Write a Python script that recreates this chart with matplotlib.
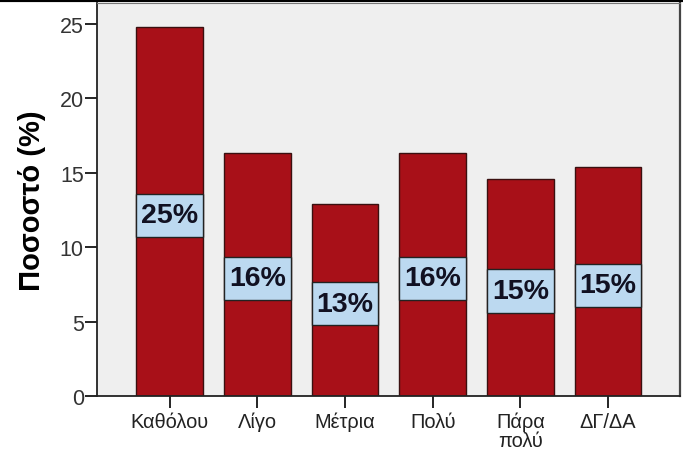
import matplotlib.pyplot as plt
from matplotlib.patches import Rectangle
from matplotlib.lines import Line2D

plt.rcParams['font.family'] = ['Liberation Sans', 'DejaVu Sans']

categories = ['Καθόλου', 'Λίγο', 'Μέτρια', 'Πολύ', 'Πάρα\nπολύ', 'ΔΓ/ΔΑ']
percent = [24.8, 16.3, 12.9, 16.3, 14.6, 15.4]

bar_color = '#a81018'
box_color = '#bcd9f0'
bar_width = 0.76

fig = plt.figure(figsize=(6.83, 4.60), dpi=100)
ax = fig.add_axes([97 / 683, 1 - 397 / 460, 583 / 683, 393 / 460])
ax.set_facecolor('#efefef')

x = list(range(len(categories)))
ax.bar(x, percent, width=bar_width, color=bar_color, edgecolor='#3a1010', linewidth=1.0, zorder=2)

# value boxes in the middle of each bar
box_h = 2.9
for xi, v in zip(x, percent):
    yc = v / 2 - 0.25
    ax.add_patch(Rectangle((xi - bar_width / 2, yc - box_h / 2), bar_width, box_h,
                           facecolor=box_color, edgecolor='#222222', linewidth=1.0, zorder=3))
    ax.text(xi, yc, f'{round(v):d}%', ha='center', va='center', fontsize=20.5,
            fontweight='bold', color='#111122', zorder=4)

ax.set_xlim(-0.83, 5.82)
ax.set_ylim(0, 26.4)
ax.set_yticks([0, 5, 10, 15, 20, 25])
ax.set_xticks(x)
ax.set_xticklabels(categories, fontsize=14.4, linespacing=0.95, color='#222222')
ax.tick_params(axis='y', length=8.5, width=1.2, labelsize=15.5, labelcolor='#333333', pad=1)
ax.tick_params(axis='x', length=8.5, width=1.2, pad=3)
ax.set_ylabel('Ποσοστό (%)', fontsize=21, fontweight='bold', labelpad=10)

for side in ['left', 'bottom']:
    ax.spines[side].set_linewidth(1.3)
    ax.spines[side].set_color('#222222')
ax.spines['top'].set_color('#777777')
ax.spines['right'].set_color('#444444')
ax.spines['right'].set_linewidth(1.6)

# black strip along the top edge
fig.add_artist(Line2D([0, 1], [0.997, 0.997], transform=fig.transFigure, color='black', linewidth=3))

fig.savefig('out.png', dpi=100)
